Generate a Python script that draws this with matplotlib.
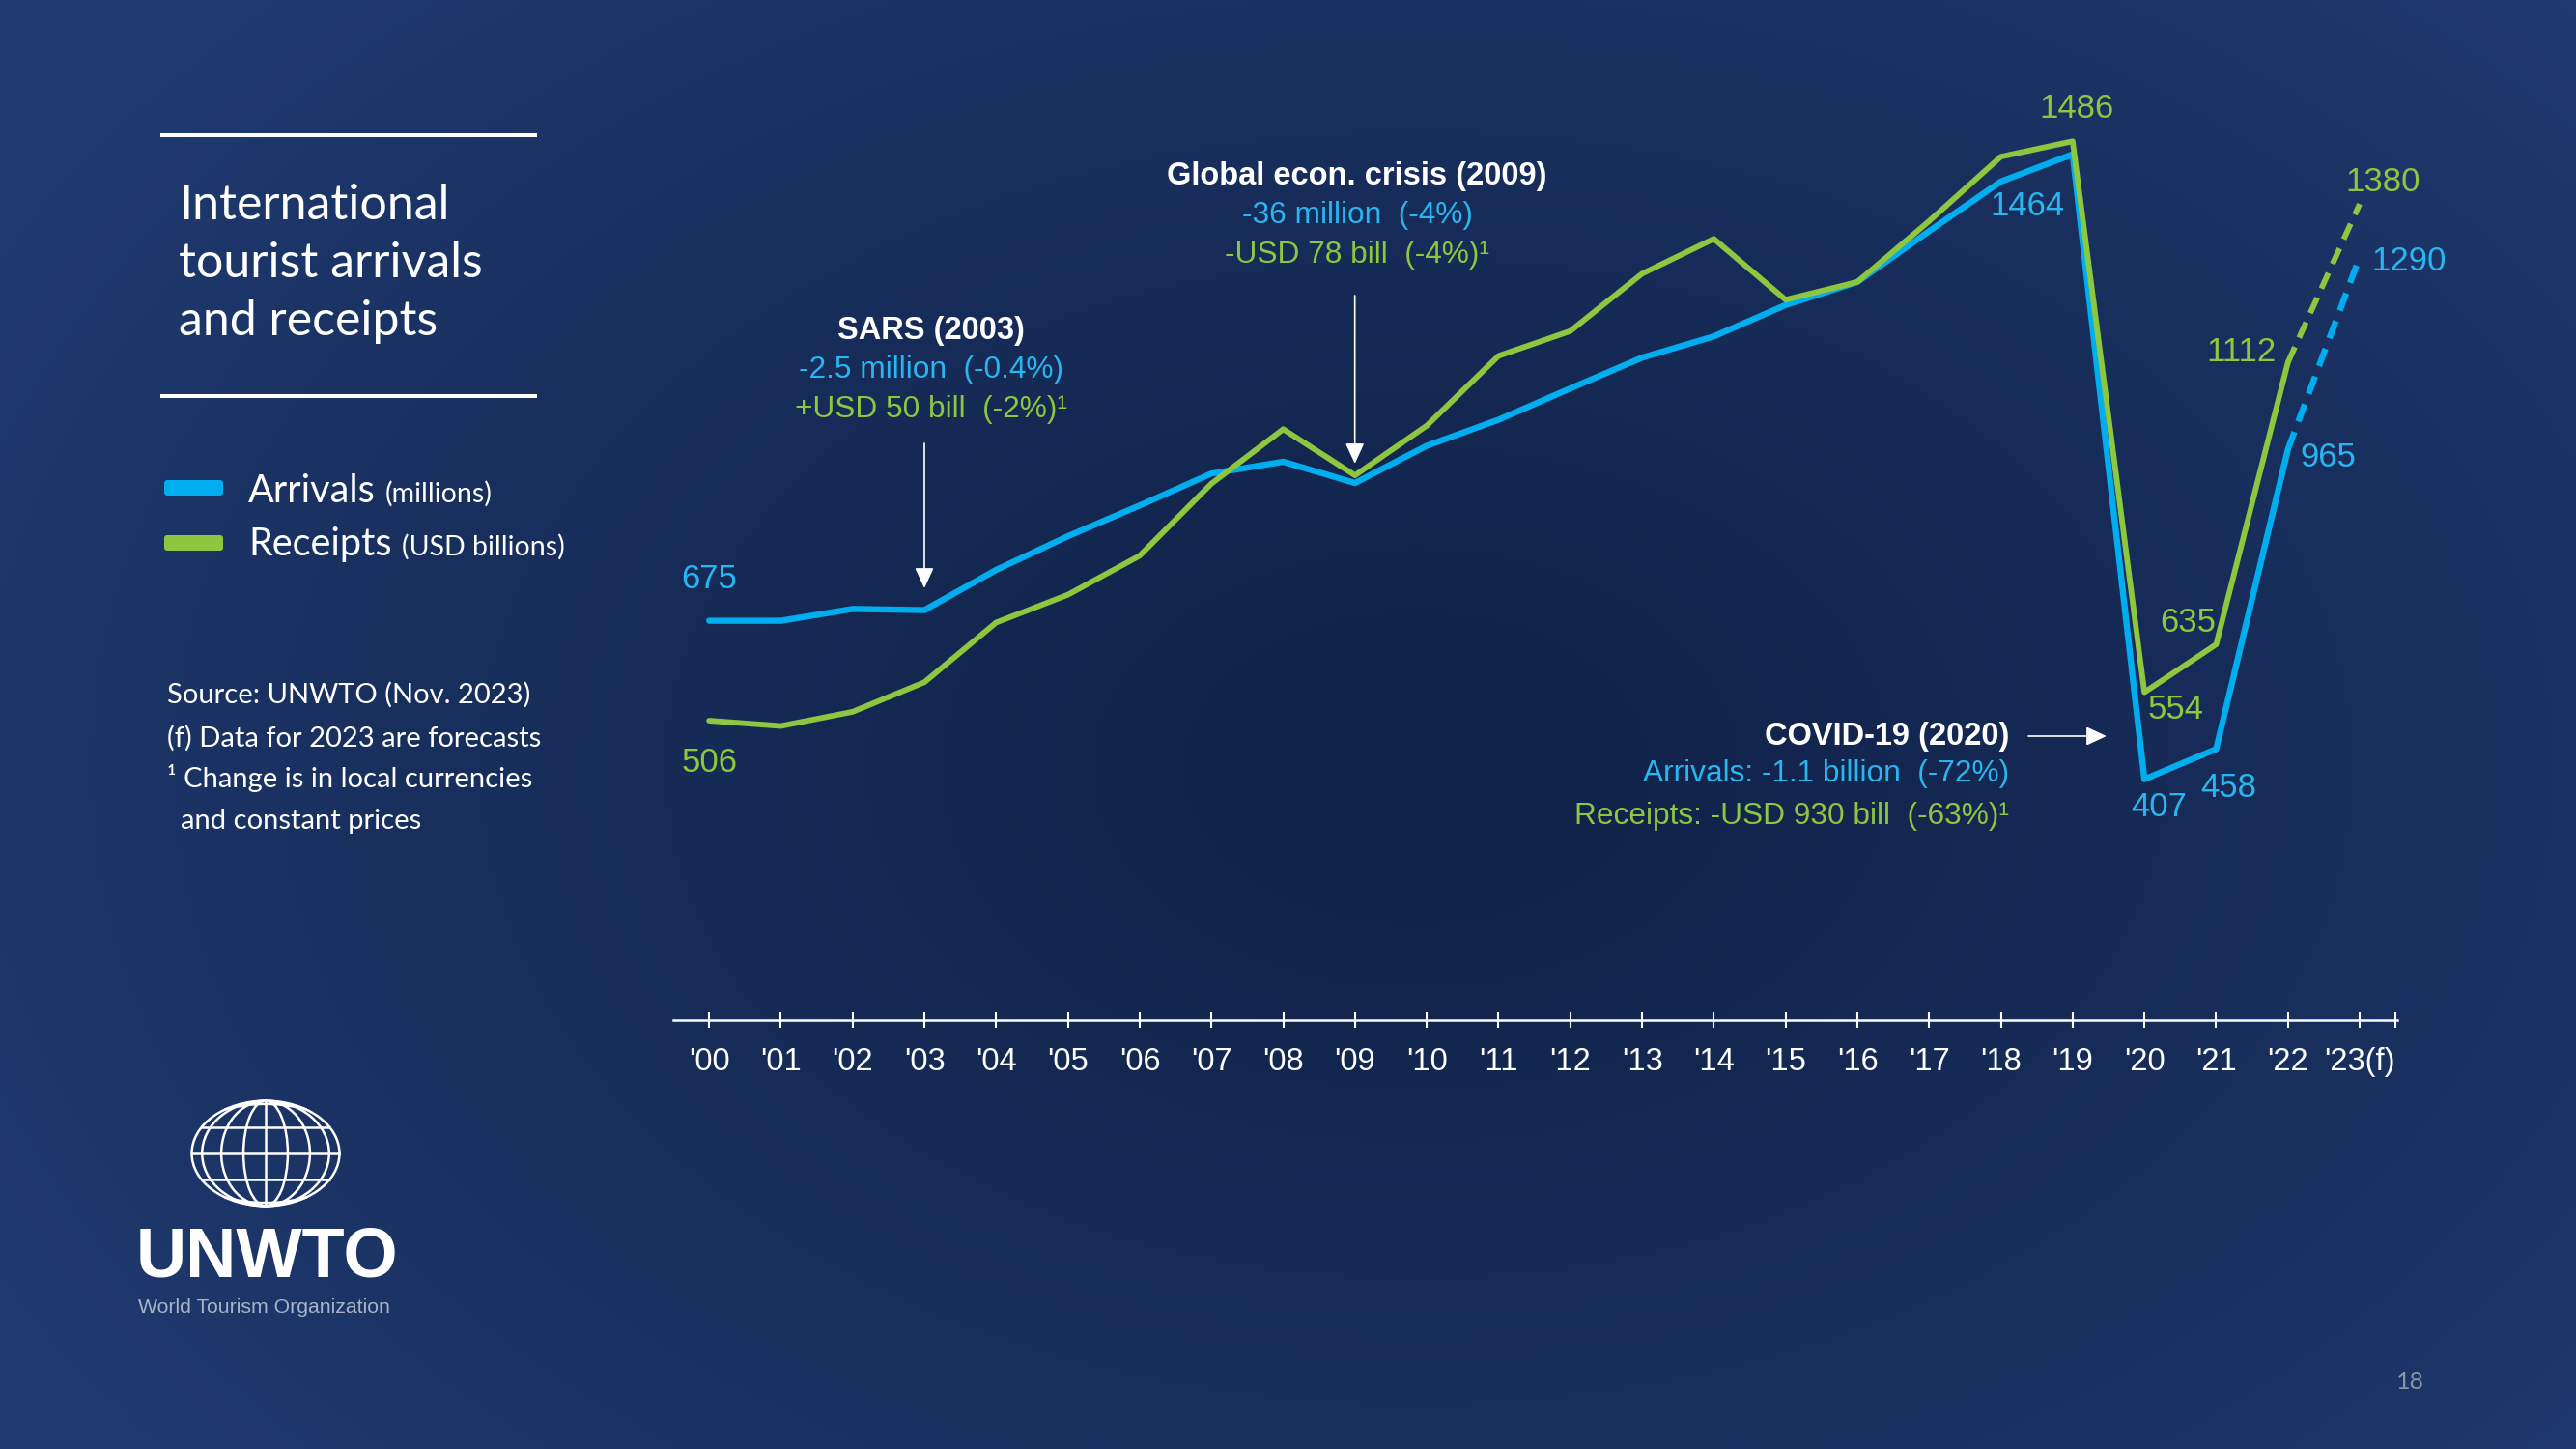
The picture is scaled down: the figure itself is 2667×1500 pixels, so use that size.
import numpy as np
import matplotlib
matplotlib.use("Agg")
import matplotlib.pyplot as plt
from matplotlib import font_manager
from matplotlib.lines import Line2D
from matplotlib.patches import Ellipse, FancyBboxPatch
from matplotlib.transforms import IdentityTransform

# ---- data ----
years = list(range(2000, 2024))
year_labels = ["'%02d" % (y % 100) for y in years[:-1]] + ["'23(f)"]

# international tourist arrivals (millions)
arrivals = [675, 675, 695, 693, 761, 818, 870, 924, 944, 908, 971, 1015, 1068,
            1120, 1156, 1209, 1248, 1334, 1418, 1464, 407, 458, 965, 1290]
# international tourism receipts (USD billions)
receipts = [506, 497, 521, 571, 672, 719, 785, 907, 999, 921, 1005, 1123, 1165,
            1262, 1321, 1218, 1248, 1351, 1460, 1486, 554, 635, 1112, 1380]

# years whose value is written next to the line
arr_label_years = [2000, 2019, 2020, 2021, 2022, 2023]
rec_label_years = [2000, 2019, 2020, 2021, 2022, 2023]

BLUE = "#00AEEF"
BLUE_TXT = "#29B6F0"
GREEN = "#8DC63F"

W, H = 2667, 1500


def has_font(name):
    try:
        font_manager.findfont(font_manager.FontProperties(family=name),
                              fallback_to_default=False)
        return True
    except Exception:
        return False


NARROW = "Liberation Sans Narrow" if has_font("Liberation Sans Narrow") else "Liberation Sans"
plt.rcParams["font.family"] = ["Liberation Sans", "DejaVu Sans"]
LATO = ["Lato", "DejaVu Sans"]


def fx(x):
    return x / W


def fy(y):
    return 1 - y / H


fig = plt.figure(figsize=(W / 100, H / 100), dpi=100)

# background: dark navy, darker toward the middle of the slide
bg = fig.add_axes([0, 0, 1, 1], zorder=-10)
bg.axis("off")
yy, xx = np.mgrid[0:1:300j, 0:1:534j]
d = np.sqrt(((xx - 0.55) / 0.62) ** 2 + ((yy - 0.53) / 0.75) ** 2)
t = np.clip(d, 0, 1) ** 1.3
c_in = np.array([17, 34, 72]) / 255
c_out = np.array([31, 58, 112]) / 255
img = c_in + (c_out - c_in) * t[..., None]
bg.imshow(img, extent=[0, 1, 0, 1], aspect="auto", origin="upper",
          interpolation="bicubic")

# ---- main chart ----
ax = fig.add_axes([fx(697), fy(1055.7), (2481.7 - 697) / W, 1055.7 / H])
ax.patch.set_alpha(0)
ax.set_xlim(1999.5, 2023.52)
ax.set_ylim(0, 1725)
for s in ["top", "left", "right"]:
    ax.spines[s].set_visible(False)
ax.spines["bottom"].set_color("white")
ax.spines["bottom"].set_linewidth(1.8)
ax.set_yticks([])
ax.set_xticks(years + [2023.5])
ax.set_xticklabels(year_labels + [""])
ax.tick_params(axis="x", direction="inout", length=11, width=1.5,
               colors="white", labelsize=23.5, pad=15)

ax.plot(years[:-1], arrivals[:-1], color=BLUE, lw=4.6,
        solid_joinstyle="round", solid_capstyle="round", zorder=3)
ax.plot(years[-2:], arrivals[-2:], color=BLUE, lw=4.6,
        linestyle=(0, (3, 1.8)), zorder=3)
ax.plot(years[:-1], receipts[:-1], color=GREEN, lw=4.2,
        solid_joinstyle="round", solid_capstyle="round", zorder=4)
ax.plot(years[-2:], receipts[-2:], color=GREEN, lw=4.2,
        linestyle=(0, (3, 1.8)), zorder=4)

# value labels (offsets in points from the data point)
arr_offsets = [(0, 31), (-34, -39), (11, -21), (9, -29), (30, -6), (37, -3)]
rec_offsets = [(0, -31), (3, 24), (23, -13), (-21, 16), (-35, 8), (17, 16)]
for yr, off in zip(arr_label_years, arr_offsets):
    v = arrivals[years.index(yr)]
    ax.annotate(str(v), (yr, v), xytext=off, textcoords="offset points",
                ha="center", va="center", fontsize=25, color=BLUE_TXT,
                annotation_clip=False)
for yr, off in zip(rec_label_years, rec_offsets):
    v = receipts[years.index(yr)]
    ax.annotate(str(v), (yr, v), xytext=off, textcoords="offset points",
                ha="center", va="center", fontsize=25, color=GREEN,
                annotation_clip=False)


# ---- event call-outs ----
def callout(x, ys, lines, ha="center"):
    colors = ["white", BLUE_TXT, GREEN]
    for i, (y, s) in enumerate(zip(ys, lines)):
        fig.text(fx(x), fy(y), s, ha=ha, va="center", color=colors[i],
                 fontsize=23.5 if i == 0 else 22.8,
                 fontweight="bold" if i == 0 else "normal")


callout(964, [342, 383, 424],
        ["SARS (2003)", "-2.5 million  (-0.4%)", "+USD 50 bill  (-2%)\u00b9"])
callout(1405, [182, 223, 264],
        ["Global econ. crisis (2009)", "-36 million  (-4%)",
         "-USD 78 bill  (-4%)\u00b9"])
callout(2080, [762, 801, 845],
        ["COVID-19 (2020)", "Arrivals: -1.1 billion  (-72%)",
         "Receipts: -USD 930 bill  (-63%)\u00b9"], ha="right")

arrow_kw = dict(arrowstyle="-|>,head_length=0.65,head_width=0.3",
                color="white", lw=1.2, mutation_scale=20,
                shrinkA=0, shrinkB=0)
for (x0, y0, x1, y1) in [(957, 459, 957, 609), (1402.7, 306, 1402.7, 480),
                         (2100, 762, 2181, 762)]:
    ax.annotate("", xy=(x1, H - y1), xytext=(x0, H - y0),
                xycoords="figure pixels", textcoords="figure pixels",
                arrowprops=arrow_kw)

# ---- left panel: title, legend, notes ----
for y in [140, 410]:
    fig.add_artist(Line2D([fx(168), fx(554)], [fy(y), fy(y)],
                          color="white", lw=2.9))

title_lines = ["International", "tourist arrivals", "and receipts"]
for y, s in zip([227, 287, 347], title_lines):
    fig.text(fx(185), fy(y), s, family=LATO, fontsize=36, color="white",
             va="baseline")

renderer = fig.canvas.get_renderer()
legend_items = [("Arrivals", "(millions)", BLUE, 520, 505),
                ("Receipts", "(USD billions)", GREEN, 575, 562)]
for name, unit, col, base, bar_y in legend_items:
    fig.add_artist(FancyBboxPatch((170, H - bar_y - 8), 61, 16,
                                  boxstyle="round,pad=0,rounding_size=3",
                                  transform=IdentityTransform(),
                                  facecolor=col, edgecolor="none"))
    t1 = fig.text(fx(257), fy(base), name, family=LATO,
                  fontsize=28.5, color="white", va="baseline")
    wpx = t1.get_window_extent(renderer).width
    fig.text(fx(257 + wpx + 10), fy(base), unit, family=LATO,
             fontsize=20.5, color="white", va="baseline")

notes = [(173, 719, "Source: UNWTO (Nov. 2023)"),
         (173, 764, "(f) Data for 2023 are forecasts"),
         (173, 806, "\u00b9 Change is in local currencies"),
         (187, 850, "and constant prices")]
for x, y, s in notes:
    fig.text(fx(x), fy(y), s, family=LATO, fontsize=21,
             color="white", va="center")

# ---- logo ----
gax = fig.add_axes([fx(197), fy(1250), 156 / W, 112 / H])
gax.set_xlim(-1.02, 1.02)
gax.set_ylim(-1.03, 1.03)
gax.axis("off")
glw = 1.8
gax.add_patch(Ellipse((0, 0), 2, 2, fill=False, edgecolor="white", lw=glw))
for f in [0.86, 0.6, 0.3]:
    gax.add_patch(Ellipse((0, 0), 2 * f, 2, fill=False, edgecolor="white", lw=glw))
gax.plot([0, 0], [-1, 1], color="white", lw=glw)
for y0 in [-0.84, -0.5, 0.0, 0.5, 0.84]:
    xm = np.sqrt(1 - y0 ** 2)
    xs = np.linspace(-xm, xm, 60)
    ys = y0 + np.sign(y0) * 0.1 * (1 - (xs / xm) ** 2) * (abs(y0) > 0.6)
    gax.plot(xs, ys, color="white", lw=glw)

fig.text(fx(141), fy(1322), "UNWTO", family=[NARROW, "DejaVu Sans"],
         fontweight="bold", fontsize=58 if NARROW != "Liberation Sans" else 52,
         color="white", va="baseline")
fig.text(fx(143), fy(1359), "World Tourism Organization", fontsize=15.3,
         color="#A9B3C6", va="baseline")

fig.text(fx(2495), fy(1430), "18", family=LATO,
         fontsize=18, color="#8B93A5", ha="center", va="center")

fig.savefig("out.png", dpi=100)
